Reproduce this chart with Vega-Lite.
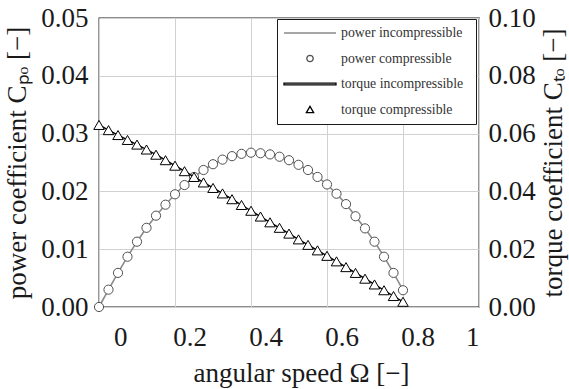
{
  "$schema": "https://vega.github.io/schema/vega-lite/v6.json",
  "width": 380,
  "height": 289,
  "autosize": "none",
  "padding": {"left": 99, "top": 18, "right": 90, "bottom": 82},
  "background": "white",
  "config": {
    "font": "Liberation Serif",
    "view": {"stroke": "#1a1a1a", "strokeWidth": 1.3},
    "axis": {
      "labelFont": "Liberation Serif",
      "titleFont": "Liberation Serif",
      "labelFontSize": 27,
      "titleFontSize": 27,
      "titleFontWeight": "normal",
      "labelColor": "#1a1a1a",
      "titleColor": "#1a1a1a",
      "domain": false,
      "ticks": false,
      "gridColor": "#d0d0d0",
      "gridWidth": 1
    }
  },
  "data": {
    "values": [
      {"o": 0.000, "cp": 0.0000, "ct": 0.0630},
      {"o": 0.025, "cp": 0.0030, "ct": 0.0612},
      {"o": 0.050, "cp": 0.0059, "ct": 0.0595},
      {"o": 0.075, "cp": 0.0087, "ct": 0.0578},
      {"o": 0.100, "cp": 0.0113, "ct": 0.0562},
      {"o": 0.125, "cp": 0.0137, "ct": 0.0545},
      {"o": 0.150, "cp": 0.0158, "ct": 0.0527},
      {"o": 0.175, "cp": 0.0177, "ct": 0.0508},
      {"o": 0.200, "cp": 0.0195, "ct": 0.0489},
      {"o": 0.225, "cp": 0.0211, "ct": 0.0470},
      {"o": 0.250, "cp": 0.0225, "ct": 0.0450},
      {"o": 0.275, "cp": 0.0237, "ct": 0.0431},
      {"o": 0.300, "cp": 0.0247, "ct": 0.0412},
      {"o": 0.325, "cp": 0.0255, "ct": 0.0393},
      {"o": 0.350, "cp": 0.0261, "ct": 0.0373},
      {"o": 0.375, "cp": 0.0265, "ct": 0.0353},
      {"o": 0.400, "cp": 0.0267, "ct": 0.0333},
      {"o": 0.425, "cp": 0.0266, "ct": 0.0313},
      {"o": 0.450, "cp": 0.0264, "ct": 0.0293},
      {"o": 0.475, "cp": 0.0260, "ct": 0.0274},
      {"o": 0.500, "cp": 0.0254, "ct": 0.0254},
      {"o": 0.525, "cp": 0.0246, "ct": 0.0234},
      {"o": 0.550, "cp": 0.0237, "ct": 0.0215},
      {"o": 0.575, "cp": 0.0225, "ct": 0.0196},
      {"o": 0.600, "cp": 0.0212, "ct": 0.0177},
      {"o": 0.625, "cp": 0.0196, "ct": 0.0158},
      {"o": 0.650, "cp": 0.0178, "ct": 0.0138},
      {"o": 0.675, "cp": 0.0157, "ct": 0.0118},
      {"o": 0.700, "cp": 0.0136, "ct": 0.0098},
      {"o": 0.725, "cp": 0.0113, "ct": 0.0078},
      {"o": 0.750, "cp": 0.0087, "ct": 0.0058},
      {"o": 0.775, "cp": 0.0059, "ct": 0.0038},
      {"o": 0.800, "cp": 0.0029, "ct": 0.0018}
    ]
  },
  "layer": [
    {
      "layer": [
        {
          "mark": {"type": "line", "strokeWidth": 1.6},
          "encoding": {
            "x": {"field": "o", "type": "quantitative", "scale": {"domain": [0, 1], "nice": false},
              "axis": {"values": [0, 0.2, 0.4, 0.6, 0.8, 1], "format": "~g", "title": "angular speed Ω [−]", "grid": true,
                "labelPadding": 17, "titlePadding": 10, "titleX": 202,
                "labelOffset": {"condition": {"test": "datum.value == 1", "value": 0}, "value": 14.5}}},
            "y": {"field": "cp", "type": "quantitative", "scale": {"domain": [0, 0.05], "nice": false},
              "axis": {"values": [0, 0.01, 0.02, 0.03, 0.04, 0.05], "format": ".2f", "title": "power coefficient Cₚₒ [−]", "grid": true, "labelPadding": 11, "titlePadding": 9}},
            "color": {"datum": "power incompressible", "type": "nominal",
              "scale": {"domain": ["power incompressible", "power compressible", "torque incompressible", "torque compressible"],
                        "range": ["#8a8a8a", "#505050", "#000000", "#000000"]},
              "legend": {
                "title": "\u00a0", "titleOrient": "right", "titlePadding": 7, "titleFontSize": 13,
                "orient": "none", "legendX": 178, "legendY": 1,
                "fillColor": "white", "strokeColor": "#1a1a1a", "padding": 6,
                "symbolSize": 2704, "clipHeight": 16, "rowPadding": 9.5,
                "labelFont": "Liberation Serif", "labelFontSize": 13.8, "labelOffset": 4, "labelColor": "#333",
                "symbolStrokeWidth": 1.3
              }}
          }
        },
        {
          "mark": {"type": "point", "filled": false, "fill": "white", "size": 5595, "strokeWidth": 1, "opacity": 1},
          "encoding": {
            "x": {"field": "o", "type": "quantitative"},
            "y": {"field": "cp", "type": "quantitative"},
            "color": {"datum": "power compressible", "type": "nominal"},
            "shape": {"datum": "power compressible", "type": "nominal",
              "scale": {"domain": ["power incompressible", "power compressible", "torque incompressible", "torque compressible"],
                        "range": [
                          "M-1,0H1",
                          "M0.123,0L0.1136,0.0471L0.087,0.087L0.0471,0.1136L0,0.123L-0.0471,0.1136L-0.087,0.087L-0.1136,0.0471L-0.123,0L-0.1136,-0.0471L-0.087,-0.087L-0.0471,-0.1136L0,-0.123L0.0471,-0.1136L0.087,-0.087L0.1136,-0.0471Z",
                          "M-1,-0.035H1V0.035H-1Z",
                          "M0,-0.121L0.14,0.121L-0.14,0.121Z"
                        ]}}
          }
        }
      ]
    },
    {
      "layer": [
        {
          "mark": {"type": "line", "strokeWidth": 1.4},
          "encoding": {
            "x": {"field": "o", "type": "quantitative"},
            "y": {"field": "ct", "type": "quantitative", "scale": {"domain": [0, 0.1], "nice": false},
              "axis": {"orient": "right", "values": [0, 0.02, 0.04, 0.06, 0.08, 0.1], "format": ".2f", "title": "torque coefficient Cₜₒ [−]", "grid": false, "labelPadding": 9, "titlePadding": 5, "titleAngle": 270, "titleBaseline": "top"}},
            "color": {"datum": "torque incompressible", "type": "nominal"}
          }
        },
        {
          "mark": {"type": "point", "filled": false, "fill": "white", "size": 5595, "strokeWidth": 1, "opacity": 1},
          "encoding": {
            "x": {"field": "o", "type": "quantitative"},
            "y": {"field": "ct", "type": "quantitative"},
            "color": {"datum": "torque compressible", "type": "nominal"},
            "shape": {"datum": "torque compressible", "type": "nominal"}
          }
        }
      ]
    }
  ],
  "resolve": {"scale": {"y": "independent"}}
}
